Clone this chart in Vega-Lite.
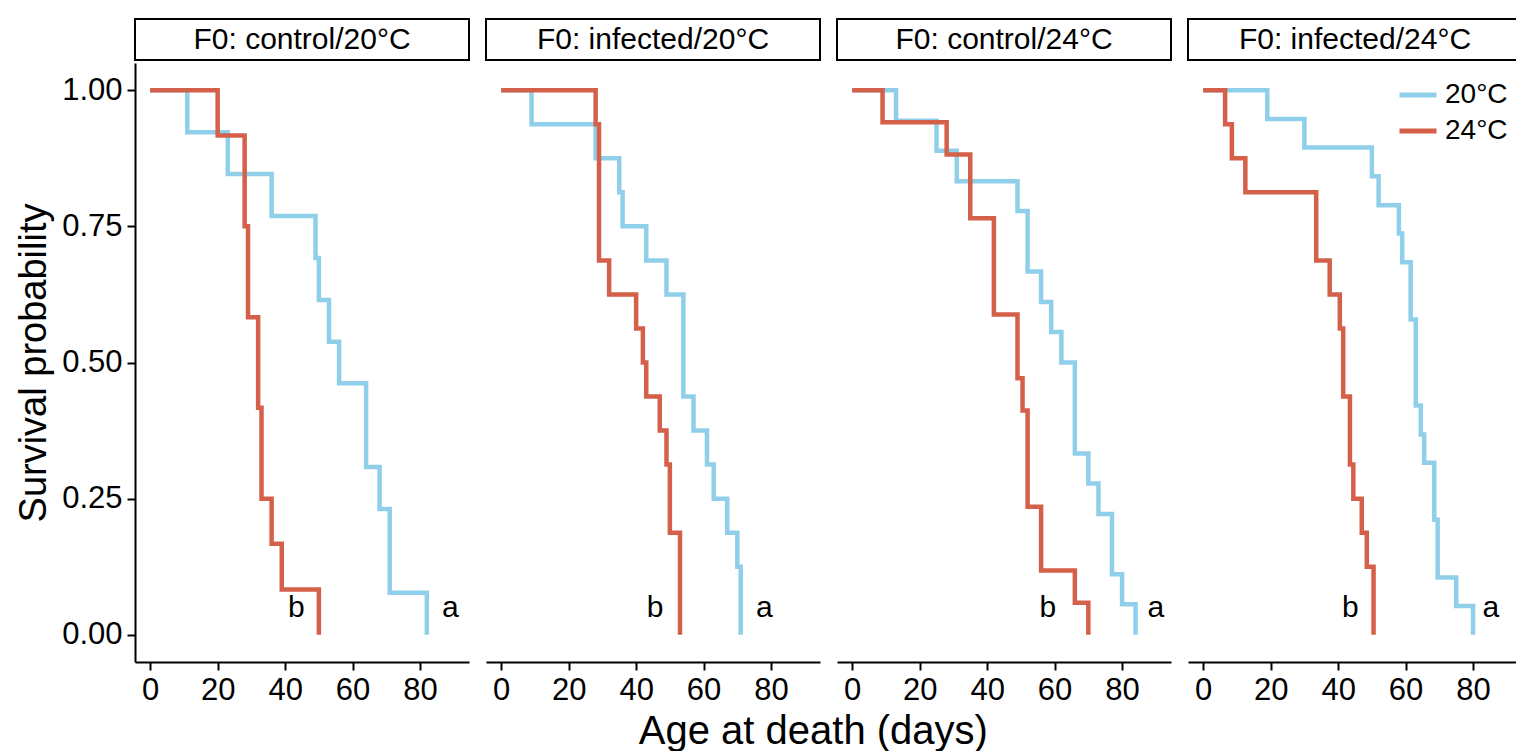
{
  "$schema": "https://vega.github.io/schema/vega-lite/v6.json",
  "background": "white",
  "padding": {"left": 15, "top": 18, "right": 0, "bottom": 5},
  "datasets": {
    "strips": [
      {"panel": "F0: control/20°C"},
      {"panel": "F0: infected/20°C"},
      {"panel": "F0: control/24°C"},
      {"panel": "F0: infected/24°C"}
    ],
    "lab": [
      {"panel": "F0: control/20°C", "temp": "24°C", "day": 43.3, "surv": 0.05, "label": "b"},
      {"panel": "F0: control/20°C", "temp": "20°C", "day": 89, "surv": 0.05, "label": "a"},
      {"panel": "F0: infected/20°C", "temp": "24°C", "day": 45.6, "surv": 0.05, "label": "b"},
      {"panel": "F0: infected/20°C", "temp": "20°C", "day": 78, "surv": 0.05, "label": "a"},
      {"panel": "F0: control/24°C", "temp": "24°C", "day": 58, "surv": 0.05, "label": "b"},
      {"panel": "F0: control/24°C", "temp": "20°C", "day": 90, "surv": 0.05, "label": "a"},
      {"panel": "F0: infected/24°C", "temp": "24°C", "day": 43.6, "surv": 0.05, "label": "b"},
      {"panel": "F0: infected/24°C", "temp": "20°C", "day": 85.3, "surv": 0.05, "label": "a"}
    ],
    "km": [
      {"panel": "F0: control/20°C", "temp": "20°C", "day": 0, "surv": 1},
      {"panel": "F0: control/20°C", "temp": "20°C", "day": 11, "surv": 0.923},
      {"panel": "F0: control/20°C", "temp": "20°C", "day": 23, "surv": 0.846},
      {"panel": "F0: control/20°C", "temp": "20°C", "day": 36, "surv": 0.769},
      {"panel": "F0: control/20°C", "temp": "20°C", "day": 49, "surv": 0.692},
      {"panel": "F0: control/20°C", "temp": "20°C", "day": 50, "surv": 0.615},
      {"panel": "F0: control/20°C", "temp": "20°C", "day": 53, "surv": 0.538},
      {"panel": "F0: control/20°C", "temp": "20°C", "day": 56, "surv": 0.462},
      {"panel": "F0: control/20°C", "temp": "20°C", "day": 64, "surv": 0.308},
      {"panel": "F0: control/20°C", "temp": "20°C", "day": 68, "surv": 0.231},
      {"panel": "F0: control/20°C", "temp": "20°C", "day": 71, "surv": 0.077},
      {"panel": "F0: control/20°C", "temp": "20°C", "day": 82, "surv": 0},
      {"panel": "F0: control/20°C", "temp": "24°C", "day": 0, "surv": 1},
      {"panel": "F0: control/20°C", "temp": "24°C", "day": 20, "surv": 0.917},
      {"panel": "F0: control/20°C", "temp": "24°C", "day": 28, "surv": 0.75},
      {"panel": "F0: control/20°C", "temp": "24°C", "day": 29, "surv": 0.583},
      {"panel": "F0: control/20°C", "temp": "24°C", "day": 32, "surv": 0.417},
      {"panel": "F0: control/20°C", "temp": "24°C", "day": 33, "surv": 0.25},
      {"panel": "F0: control/20°C", "temp": "24°C", "day": 36, "surv": 0.167},
      {"panel": "F0: control/20°C", "temp": "24°C", "day": 39, "surv": 0.083},
      {"panel": "F0: control/20°C", "temp": "24°C", "day": 50, "surv": 0},
      {"panel": "F0: infected/20°C", "temp": "20°C", "day": 0, "surv": 1},
      {"panel": "F0: infected/20°C", "temp": "20°C", "day": 9, "surv": 0.9375},
      {"panel": "F0: infected/20°C", "temp": "20°C", "day": 28, "surv": 0.875},
      {"panel": "F0: infected/20°C", "temp": "20°C", "day": 35, "surv": 0.8125},
      {"panel": "F0: infected/20°C", "temp": "20°C", "day": 36, "surv": 0.75},
      {"panel": "F0: infected/20°C", "temp": "20°C", "day": 43, "surv": 0.6875},
      {"panel": "F0: infected/20°C", "temp": "20°C", "day": 49, "surv": 0.625},
      {"panel": "F0: infected/20°C", "temp": "20°C", "day": 54, "surv": 0.4375},
      {"panel": "F0: infected/20°C", "temp": "20°C", "day": 57, "surv": 0.375},
      {"panel": "F0: infected/20°C", "temp": "20°C", "day": 61, "surv": 0.3125},
      {"panel": "F0: infected/20°C", "temp": "20°C", "day": 63, "surv": 0.25},
      {"panel": "F0: infected/20°C", "temp": "20°C", "day": 67, "surv": 0.1875},
      {"panel": "F0: infected/20°C", "temp": "20°C", "day": 70, "surv": 0.125},
      {"panel": "F0: infected/20°C", "temp": "20°C", "day": 71, "surv": 0},
      {"panel": "F0: infected/20°C", "temp": "24°C", "day": 0, "surv": 1},
      {"panel": "F0: infected/20°C", "temp": "24°C", "day": 28, "surv": 0.9375},
      {"panel": "F0: infected/20°C", "temp": "24°C", "day": 29, "surv": 0.6875},
      {"panel": "F0: infected/20°C", "temp": "24°C", "day": 32, "surv": 0.625},
      {"panel": "F0: infected/20°C", "temp": "24°C", "day": 40, "surv": 0.5625},
      {"panel": "F0: infected/20°C", "temp": "24°C", "day": 42, "surv": 0.5},
      {"panel": "F0: infected/20°C", "temp": "24°C", "day": 43, "surv": 0.4375},
      {"panel": "F0: infected/20°C", "temp": "24°C", "day": 47, "surv": 0.375},
      {"panel": "F0: infected/20°C", "temp": "24°C", "day": 49, "surv": 0.3125},
      {"panel": "F0: infected/20°C", "temp": "24°C", "day": 50, "surv": 0.1875},
      {"panel": "F0: infected/20°C", "temp": "24°C", "day": 53, "surv": 0},
      {"panel": "F0: control/24°C", "temp": "20°C", "day": 0, "surv": 1},
      {"panel": "F0: control/24°C", "temp": "20°C", "day": 13, "surv": 0.944},
      {"panel": "F0: control/24°C", "temp": "20°C", "day": 25, "surv": 0.889},
      {"panel": "F0: control/24°C", "temp": "20°C", "day": 31, "surv": 0.833},
      {"panel": "F0: control/24°C", "temp": "20°C", "day": 49, "surv": 0.778},
      {"panel": "F0: control/24°C", "temp": "20°C", "day": 52, "surv": 0.667},
      {"panel": "F0: control/24°C", "temp": "20°C", "day": 56, "surv": 0.611},
      {"panel": "F0: control/24°C", "temp": "20°C", "day": 59, "surv": 0.556},
      {"panel": "F0: control/24°C", "temp": "20°C", "day": 62, "surv": 0.5},
      {"panel": "F0: control/24°C", "temp": "20°C", "day": 66, "surv": 0.333},
      {"panel": "F0: control/24°C", "temp": "20°C", "day": 70, "surv": 0.278},
      {"panel": "F0: control/24°C", "temp": "20°C", "day": 73, "surv": 0.222},
      {"panel": "F0: control/24°C", "temp": "20°C", "day": 77, "surv": 0.111},
      {"panel": "F0: control/24°C", "temp": "20°C", "day": 80, "surv": 0.056},
      {"panel": "F0: control/24°C", "temp": "20°C", "day": 84, "surv": 0},
      {"panel": "F0: control/24°C", "temp": "24°C", "day": 0, "surv": 1},
      {"panel": "F0: control/24°C", "temp": "24°C", "day": 9, "surv": 0.941},
      {"panel": "F0: control/24°C", "temp": "24°C", "day": 28, "surv": 0.882},
      {"panel": "F0: control/24°C", "temp": "24°C", "day": 35, "surv": 0.765},
      {"panel": "F0: control/24°C", "temp": "24°C", "day": 42, "surv": 0.588},
      {"panel": "F0: control/24°C", "temp": "24°C", "day": 49, "surv": 0.471},
      {"panel": "F0: control/24°C", "temp": "24°C", "day": 50.5, "surv": 0.412},
      {"panel": "F0: control/24°C", "temp": "24°C", "day": 52, "surv": 0.235},
      {"panel": "F0: control/24°C", "temp": "24°C", "day": 56, "surv": 0.118},
      {"panel": "F0: control/24°C", "temp": "24°C", "day": 66, "surv": 0.059},
      {"panel": "F0: control/24°C", "temp": "24°C", "day": 70, "surv": 0},
      {"panel": "F0: infected/24°C", "temp": "20°C", "day": 0, "surv": 1},
      {"panel": "F0: infected/24°C", "temp": "20°C", "day": 19, "surv": 0.947},
      {"panel": "F0: infected/24°C", "temp": "20°C", "day": 30, "surv": 0.895},
      {"panel": "F0: infected/24°C", "temp": "20°C", "day": 50, "surv": 0.842},
      {"panel": "F0: infected/24°C", "temp": "20°C", "day": 52, "surv": 0.789},
      {"panel": "F0: infected/24°C", "temp": "20°C", "day": 58, "surv": 0.737},
      {"panel": "F0: infected/24°C", "temp": "20°C", "day": 59, "surv": 0.684},
      {"panel": "F0: infected/24°C", "temp": "20°C", "day": 61.5, "surv": 0.579},
      {"panel": "F0: infected/24°C", "temp": "20°C", "day": 63, "surv": 0.421},
      {"panel": "F0: infected/24°C", "temp": "20°C", "day": 64.5, "surv": 0.368},
      {"panel": "F0: infected/24°C", "temp": "20°C", "day": 65.5, "surv": 0.316},
      {"panel": "F0: infected/24°C", "temp": "20°C", "day": 68.5, "surv": 0.211},
      {"panel": "F0: infected/24°C", "temp": "20°C", "day": 69.5, "surv": 0.105},
      {"panel": "F0: infected/24°C", "temp": "20°C", "day": 75, "surv": 0.053},
      {"panel": "F0: infected/24°C", "temp": "20°C", "day": 80, "surv": 0},
      {"panel": "F0: infected/24°C", "temp": "24°C", "day": 0, "surv": 1},
      {"panel": "F0: infected/24°C", "temp": "24°C", "day": 6.5, "surv": 0.9375},
      {"panel": "F0: infected/24°C", "temp": "24°C", "day": 8.5, "surv": 0.875},
      {"panel": "F0: infected/24°C", "temp": "24°C", "day": 12.5, "surv": 0.8125},
      {"panel": "F0: infected/24°C", "temp": "24°C", "day": 33.5, "surv": 0.6875},
      {"panel": "F0: infected/24°C", "temp": "24°C", "day": 37.5, "surv": 0.625},
      {"panel": "F0: infected/24°C", "temp": "24°C", "day": 40.5, "surv": 0.5625},
      {"panel": "F0: infected/24°C", "temp": "24°C", "day": 41.5, "surv": 0.4375},
      {"panel": "F0: infected/24°C", "temp": "24°C", "day": 43.5, "surv": 0.3125},
      {"panel": "F0: infected/24°C", "temp": "24°C", "day": 44.5, "surv": 0.25},
      {"panel": "F0: infected/24°C", "temp": "24°C", "day": 47, "surv": 0.1875},
      {"panel": "F0: infected/24°C", "temp": "24°C", "day": 48.5, "surv": 0.125},
      {"panel": "F0: infected/24°C", "temp": "24°C", "day": 50.5, "surv": 0}
    ]
  },
  "title": {"text": "Age at death (days)", "orient": "bottom", "anchor": "middle", "dx": 44, "offset": 7, "fontSize": 40, "font": "Liberation Sans", "fontWeight": "normal", "color": "black"},
  "spacing": 15,
  "hconcat": [
    {
      "spacing": 2,
      "vconcat": [
        {
          "width": 334, "height": 41,
          "view": {"stroke": "black", "strokeWidth": 2},
          "data": {"name": "strips"},
          "transform": [{"filter": "datum.panel == 'F0: control/20°C'"}],
          "mark": {"type": "text", "fontSize": 30, "font": "Liberation Sans", "color": "black"},
          "encoding": {"text": {"field": "panel"}}
        },
        {
          "width": 334, "height": 599,
          "view": {"stroke": null},
          "layer": [
            {
              "data": {"name": "km"},
              "transform": [{"filter": "datum.panel == 'F0: control/20°C'"}],
              "mark": {"type": "line", "interpolate": "step-after", "strokeWidth": 4.5},
              "encoding": {
                "x": {"field": "day", "type": "quantitative", "scale": {"domain": [-4.5, 94.5], "nice": false, "zero": false}, "axis": {"values": [0, 20, 40, 60, 80], "title": null}},
                "y": {"field": "surv", "type": "quantitative", "scale": {"domain": [-0.05, 1.05], "nice": false, "zero": false}, "axis": {"values": [0, 0.25, 0.5, 0.75, 1], "format": ".2f", "title": "Survival probability"}},
                "color": {"field": "temp", "type": "nominal", "scale": {"domain": ["20°C", "24°C"], "range": ["#8FCFEA", "#D5604A"]}, "legend": {"orient": "none", "legendX": 1262, "legendY": 55, "title": null, "padding": 0}}
              }
            },
            {
              "data": {"name": "lab"},
              "transform": [{"filter": "datum.panel == 'F0: control/20°C'"}],
              "mark": {"type": "text", "fontSize": 30, "font": "Liberation Sans", "color": "black"},
              "encoding": {
                "x": {"field": "day", "type": "quantitative"},
                "y": {"field": "surv", "type": "quantitative"},
                "text": {"field": "label"}
              }
            }
          ]
        }
      ]
    },
    {
      "spacing": 2,
      "vconcat": [
        {
          "width": 334, "height": 41,
          "view": {"stroke": "black", "strokeWidth": 2},
          "data": {"name": "strips"},
          "transform": [{"filter": "datum.panel == 'F0: infected/20°C'"}],
          "mark": {"type": "text", "fontSize": 30, "font": "Liberation Sans", "color": "black"},
          "encoding": {"text": {"field": "panel"}}
        },
        {
          "width": 334, "height": 599,
          "view": {"stroke": null},
          "layer": [
            {
              "data": {"name": "km"},
              "transform": [{"filter": "datum.panel == 'F0: infected/20°C'"}],
              "mark": {"type": "line", "interpolate": "step-after", "strokeWidth": 4.5},
              "encoding": {
                "x": {"field": "day", "type": "quantitative", "scale": {"domain": [-4.5, 94.5], "nice": false, "zero": false}, "axis": {"values": [0, 20, 40, 60, 80], "title": null}},
                "y": {"field": "surv", "type": "quantitative", "scale": {"domain": [-0.05, 1.05], "nice": false, "zero": false}, "axis": null},
                "color": {"field": "temp", "type": "nominal", "scale": {"domain": ["20°C", "24°C"], "range": ["#8FCFEA", "#D5604A"]}, "legend": {"orient": "none", "legendX": 1262, "legendY": 55, "title": null, "padding": 0}}
              }
            },
            {
              "data": {"name": "lab"},
              "transform": [{"filter": "datum.panel == 'F0: infected/20°C'"}],
              "mark": {"type": "text", "fontSize": 30, "font": "Liberation Sans", "color": "black"},
              "encoding": {
                "x": {"field": "day", "type": "quantitative"},
                "y": {"field": "surv", "type": "quantitative"},
                "text": {"field": "label"}
              }
            }
          ]
        }
      ]
    },
    {
      "spacing": 2,
      "vconcat": [
        {
          "width": 334, "height": 41,
          "view": {"stroke": "black", "strokeWidth": 2},
          "data": {"name": "strips"},
          "transform": [{"filter": "datum.panel == 'F0: control/24°C'"}],
          "mark": {"type": "text", "fontSize": 30, "font": "Liberation Sans", "color": "black"},
          "encoding": {"text": {"field": "panel"}}
        },
        {
          "width": 334, "height": 599,
          "view": {"stroke": null},
          "layer": [
            {
              "data": {"name": "km"},
              "transform": [{"filter": "datum.panel == 'F0: control/24°C'"}],
              "mark": {"type": "line", "interpolate": "step-after", "strokeWidth": 4.5},
              "encoding": {
                "x": {"field": "day", "type": "quantitative", "scale": {"domain": [-4.5, 94.5], "nice": false, "zero": false}, "axis": {"values": [0, 20, 40, 60, 80], "title": null}},
                "y": {"field": "surv", "type": "quantitative", "scale": {"domain": [-0.05, 1.05], "nice": false, "zero": false}, "axis": null},
                "color": {"field": "temp", "type": "nominal", "scale": {"domain": ["20°C", "24°C"], "range": ["#8FCFEA", "#D5604A"]}, "legend": {"orient": "none", "legendX": 1262, "legendY": 55, "title": null, "padding": 0}}
              }
            },
            {
              "data": {"name": "lab"},
              "transform": [{"filter": "datum.panel == 'F0: control/24°C'"}],
              "mark": {"type": "text", "fontSize": 30, "font": "Liberation Sans", "color": "black"},
              "encoding": {
                "x": {"field": "day", "type": "quantitative"},
                "y": {"field": "surv", "type": "quantitative"},
                "text": {"field": "label"}
              }
            }
          ]
        }
      ]
    },
    {
      "spacing": 2,
      "vconcat": [
        {
          "width": 334, "height": 41,
          "view": {"stroke": "black", "strokeWidth": 2},
          "data": {"name": "strips"},
          "transform": [{"filter": "datum.panel == 'F0: infected/24°C'"}],
          "mark": {"type": "text", "fontSize": 30, "font": "Liberation Sans", "color": "black"},
          "encoding": {"text": {"field": "panel"}}
        },
        {
          "width": 334, "height": 599,
          "view": {"stroke": null},
          "layer": [
            {
              "data": {"name": "km"},
              "transform": [{"filter": "datum.panel == 'F0: infected/24°C'"}],
              "mark": {"type": "line", "interpolate": "step-after", "strokeWidth": 4.5},
              "encoding": {
                "x": {"field": "day", "type": "quantitative", "scale": {"domain": [-4.5, 94.5], "nice": false, "zero": false}, "axis": {"values": [0, 20, 40, 60, 80], "title": null}},
                "y": {"field": "surv", "type": "quantitative", "scale": {"domain": [-0.05, 1.05], "nice": false, "zero": false}, "axis": null},
                "color": {"field": "temp", "type": "nominal", "scale": {"domain": ["20°C", "24°C"], "range": ["#8FCFEA", "#D5604A"]}, "legend": {"orient": "none", "legendX": 1262, "legendY": 55, "title": null, "padding": 0}}
              }
            },
            {
              "data": {"name": "lab"},
              "transform": [{"filter": "datum.panel == 'F0: infected/24°C'"}],
              "mark": {"type": "text", "fontSize": 30, "font": "Liberation Sans", "color": "black"},
              "encoding": {
                "x": {"field": "day", "type": "quantitative"},
                "y": {"field": "surv", "type": "quantitative"},
                "text": {"field": "label"}
              }
            }
          ]
        }
      ]
    }
  ],
  "config": {
    "font": "Liberation Sans",
    "view": {"stroke": null},
    "axis": {
      "grid": false,
      "domainColor": "black", "domainWidth": 2,
      "tickColor": "black", "tickWidth": 2, "tickSize": 8,
      "labelColor": "black", "labelFont": "Liberation Sans", "labelFontSize": 31, "labelPadding": 5,
      "titleColor": "black", "titleFont": "Liberation Sans", "titleFontSize": 38, "titleFontWeight": "normal", "titlePadding": 8
    },
    "legend": {
      "labelFont": "Liberation Sans", "labelFontSize": 28, "labelColor": "black",
      "symbolType": "stroke", "symbolStrokeWidth": 5, "symbolSize": 1369,
      "labelOffset": 6, "rowPadding": 1
    }
  }
}
